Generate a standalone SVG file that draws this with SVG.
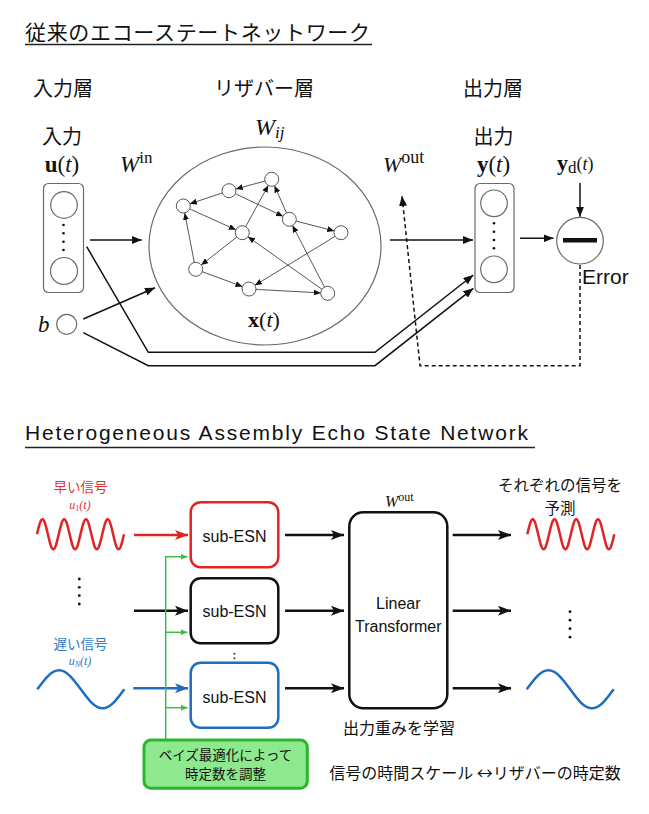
<svg xmlns="http://www.w3.org/2000/svg" width="649" height="814" viewBox="0 0 649 814">
<style>
.jp{font-family:"Noto Sans CJK JP","Noto Sans",sans-serif;fill:#111}
.en{font-family:"Liberation Sans",Arial,sans-serif;fill:#111}
.m{font-family:"Liberation Serif","Times New Roman",serif;fill:#111}
.gray{fill:#fff;stroke:#6a6a6a;stroke-width:1.2}
.rn{fill:#fff;stroke:#555;stroke-width:1}
.re{stroke:#444;stroke-width:0.9;fill:none;marker-end:url(#as)}
.ta{stroke:#111;stroke-width:1.5;fill:none;marker-end:url(#ah)}
.ba{stroke:#111;stroke-width:2.5;fill:none;marker-end:url(#ab)}
.ga{stroke:#3cbf3c;stroke-width:1.5;fill:none;marker-end:url(#ag)}
.dot{fill:#111}
</style>
<defs>
<marker id="ah" markerUnits="userSpaceOnUse" markerWidth="11" markerHeight="8" refX="10" refY="4" orient="auto"><path d="M0,0 L10,4 L0,8 z" fill="#111"/></marker>
<marker id="as" markerUnits="userSpaceOnUse" markerWidth="7" markerHeight="6" refX="7" refY="3" orient="auto"><path d="M0,0 L7,3 L0,6 z" fill="#111"/></marker>
<marker id="ab" markerUnits="userSpaceOnUse" markerWidth="14" markerHeight="11" refX="13" refY="5" orient="auto"><path d="M0,0 L13,5 L0,10 L3,5 z" fill="#111"/></marker>
<marker id="ar" markerUnits="userSpaceOnUse" markerWidth="14" markerHeight="11" refX="13" refY="5" orient="auto"><path d="M0,0 L13,5 L0,10 L3,5 z" fill="#e02424"/></marker>
<marker id="abl" markerUnits="userSpaceOnUse" markerWidth="14" markerHeight="11" refX="13" refY="5" orient="auto"><path d="M0,0 L13,5 L0,10 L3,5 z" fill="#1f6cc0"/></marker>
<marker id="ag" markerUnits="userSpaceOnUse" markerWidth="8" markerHeight="6" refX="7" refY="3" orient="auto"><path d="M0,0 L7,3 L0,6 z" fill="#3cbf3c"/></marker>
</defs>

<!-- Titles -->
<g id="title1">
<text class="jp" x="25" y="40" font-size="21" textLength="345" lengthAdjust="spacing">従来のエコーステートネットワーク</text>
<line x1="25" y1="44.5" x2="372" y2="44.5" stroke="#222" stroke-width="1.5"/>
</g>
<g id="title2">
<text class="en" x="25" y="440" font-size="21" textLength="503" lengthAdjust="spacing">Heterogeneous Assembly Echo State Network</text>
<line x1="25" y1="447.5" x2="535" y2="447.5" stroke="#222" stroke-width="1.5"/>
</g>

<!-- Layer labels -->
<g id="labels-top">
<text class="jp" x="63" y="95.5" font-size="20" text-anchor="middle">入力層</text>
<text class="jp" x="264" y="95.5" font-size="20" text-anchor="middle">リザバー層</text>
<text class="jp" x="493" y="95.5" font-size="20" text-anchor="middle">出力層</text>
<text class="jp" x="62" y="143.5" font-size="20" text-anchor="middle">入力</text>
<text class="jp" x="493.5" y="143.5" font-size="20" text-anchor="middle">出力</text>
<text class="m" x="62" y="172" font-size="23" text-anchor="middle"><tspan font-weight="bold">u</tspan>(<tspan font-style="italic">t</tspan>)</text>
<text class="m" x="493.5" y="172" font-size="23" text-anchor="middle"><tspan font-weight="bold">y</tspan>(<tspan font-style="italic">t</tspan>)</text>
<text class="m" x="120" y="172" font-size="23"><tspan font-style="italic">W</tspan><tspan font-size="17" dy="-9">in</tspan></text>
<text class="m" x="255" y="135" font-size="24"><tspan font-style="italic">W</tspan><tspan font-size="17" font-style="italic" dy="3">ij</tspan></text>
<text class="m" x="383" y="172" font-size="22"><tspan font-style="italic">W</tspan><tspan font-size="18" dy="-9">out</tspan></text>
<text class="m" x="557" y="170" font-size="22"><tspan font-weight="bold">y</tspan><tspan font-size="17" dy="3">d</tspan><tspan font-size="18" dy="-3">(<tspan font-style="italic">t</tspan>)</tspan></text>
<text class="m" x="264" y="327" font-size="22" text-anchor="middle"><tspan font-weight="bold">x</tspan>(<tspan font-style="italic">t</tspan>)</text>
<text class="m" x="38" y="332" font-size="23" font-style="italic">b</text>
<text class="en" x="582" y="284" font-size="21">Error</text>
</g>

<!-- Input layer -->
<g id="input-layer">
<rect class="gray" x="43.5" y="183.5" width="40" height="109" rx="5"/>
<circle class="gray" cx="64" cy="205" r="13.3"/>
<circle class="gray" cx="64" cy="271" r="13.5"/>
<circle class="dot" cx="63.5" cy="225" r="1.3"/>
<circle class="dot" cx="63.5" cy="233.3" r="1.3"/>
<circle class="dot" cx="63.5" cy="241.7" r="1.3"/>
<circle class="dot" cx="63.5" cy="250" r="1.3"/>
</g>
<g id="bias">
<circle class="gray" cx="66.7" cy="324.3" r="10"/>
</g>

<!-- Reservoir -->
<g id="reservoir">
<ellipse cx="265" cy="246" rx="116" ry="99" fill="none" stroke="#6a6a6a" stroke-width="1.2"/>
<g id="res-edges">
<path class="re" d="M264.9,181.1 L235.8,188.9"/>
<path class="re" d="M222.4,192.9 L189.9,203.8"/>
<path class="re" d="M235.3,193.7 L283,216.3"/>
<path class="re" d="M286.5,212.9 L274.5,185.7"/>
<path class="re" d="M245.7,226.6 L268.3,185.4"/>
<path class="re" d="M189.7,208.9 L235.9,229.8"/>
<path class="re" d="M296.1,221.1 L334.2,230.9"/>
<path class="re" d="M236.8,237 L201.2,265"/>
<path class="re" d="M194.3,262.4 L184.7,212.9"/>
<path class="re" d="M202.3,271.7 L242.4,286.6"/>
<path class="re" d="M256,289.4 L320.7,292.9"/>
<path class="re" d="M335,236.4 L255,285.3"/>
<path class="re" d="M322,289.3 L248,236.8"/>
<path class="re" d="M324.5,287.1 L292.5,225.5"/>
</g>
<circle class="rn" cx="271.7" cy="179.3" r="7"/>
<circle class="rn" cx="229" cy="190.7" r="7"/>
<circle class="rn" cx="183.3" cy="206" r="7"/>
<circle class="rn" cx="289.3" cy="219.3" r="7"/>
<circle class="rn" cx="341" cy="232.7" r="7"/>
<circle class="rn" cx="242.3" cy="232.7" r="7"/>
<circle class="rn" cx="195.7" cy="269.3" r="7"/>
<circle class="rn" cx="249" cy="289" r="7"/>
<circle class="rn" cx="327.7" cy="293.3" r="7"/>
</g>

<!-- Output layer -->
<g id="output-layer">
<rect class="gray" x="475" y="183.5" width="39" height="109" rx="5"/>
<circle class="gray" cx="494" cy="203.3" r="13.3"/>
<circle class="gray" cx="494" cy="269.3" r="13.3"/>
<circle class="dot" cx="494" cy="223.3" r="1.3"/>
<circle class="dot" cx="494" cy="231.7" r="1.3"/>
<circle class="dot" cx="494" cy="240" r="1.3"/>
<circle class="dot" cx="494" cy="248.3" r="1.3"/>
</g>
<g id="error-node">
<circle class="gray" cx="580" cy="240.7" r="23.3"/>
<rect x="563" y="238" width="34" height="4.5" fill="#111"/>
</g>

<!-- Top connectors -->
<g id="connectors-top">
<path class="ta" d="M90,240 H141.7"/>
<path class="ta" d="M83.3,319 L155,287.7"/>
<path class="ta" d="M390,240 H473"/>
<path class="ta" d="M86.7,246.7 L148.3,352.3 H375 L473.3,275"/>
<path class="ta" d="M83.3,332.7 L148.3,365.7 H375 L473.3,288.3" stroke-width="1.8"/>
<path class="ta" d="M520,238.3 H553.5"/>
<path class="ta" d="M580,183 V216.7"/>
<path class="ta" d="M580,265 V365.7 H420 L402,196" stroke-dasharray="4,3"/>
</g>

<!-- Bottom: signals -->
<g id="input-signals">
<text class="jp" x="80.5" y="492" font-size="13.5" text-anchor="middle" style="fill:#e03434">早い信号</text>
<text class="m" x="80" y="509" font-size="12" text-anchor="middle" style="fill:#e03434"><tspan font-style="italic">u</tspan><tspan font-size="8" dy="2">1</tspan><tspan font-style="italic" dy="-2">(t)</tspan></text>
<path d="M37,534.3 c1.818,-7.876 3.48,-15 5.4375,-15 c1.9575,0 3.6195,7.124 5.4375,15 c1.818,7.876 3.48,15 5.4375,15 c1.9575,0 3.6195,-7.124 5.4375,-15 c1.818,-7.876 3.48,-15 5.4375,-15 c1.9575,0 3.6195,7.124 5.4375,15 c1.818,7.876 3.48,15 5.4375,15 c1.9575,0 3.6195,-7.124 5.4375,-15 c1.818,-7.876 3.48,-15 5.4375,-15 c1.9575,0 3.6195,7.124 5.4375,15 c1.818,7.876 3.48,15 5.4375,15 c1.9575,0 3.6195,-7.124 5.4375,-15 c1.818,-7.876 3.48,-15 5.4375,-15 c1.9575,0 3.6195,7.124 5.4375,15 c1.818,7.876 3.48,15 5.4375,15 c1.9575,0 3.6195,-7.124 5.4375,-15" fill="none" stroke="#e02424" stroke-width="2.5"/>
<circle class="dot" cx="79.3" cy="579" r="1.4"/>
<circle class="dot" cx="79.3" cy="587.3" r="1.4"/>
<circle class="dot" cx="79.3" cy="595.6" r="1.4"/>
<circle class="dot" cx="79.3" cy="604" r="1.4"/>
<text class="jp" x="80.5" y="649" font-size="13.5" text-anchor="middle" style="fill:#2f7cc9">遅い信号</text>
<text class="m" x="80" y="665" font-size="12" text-anchor="middle" style="fill:#2f7cc9"><tspan font-style="italic">u</tspan><tspan font-size="8" font-style="italic" dy="2">N</tspan><tspan font-style="italic" dy="-2">(t)</tspan></text>
<path d="M37.3,689.3 c7.271,-9.977 13.921,-19 21.75,-19 c7.829,0 14.479,9.023 21.75,19 c7.271,9.977 13.921,19 21.75,19 c7.829,0 14.479,-9.023 21.75,-19" fill="none" stroke="#1f6cc0" stroke-width="2.5"/>
</g>

<!-- sub-ESN nodes -->
<g id="sub-esn-1">
<rect x="190.7" y="502.3" width="87.6" height="65" rx="10" fill="#fff" stroke="#e02424" stroke-width="2.5"/>
<text class="en" x="234.5" y="541.5" font-size="16" text-anchor="middle">sub-ESN</text>
</g>
<g id="sub-esn-2">
<rect x="190.7" y="578.3" width="87.6" height="65" rx="10" fill="#fff" stroke="#111" stroke-width="2.5"/>
<text class="en" x="234.5" y="616.5" font-size="16" text-anchor="middle">sub-ESN</text>
</g>
<text class="en" x="234.3" y="658.5" font-size="11" font-weight="bold" text-anchor="middle">:</text>
<g id="sub-esn-3">
<rect x="190.7" y="662.7" width="87.6" height="65" rx="10" fill="#fff" stroke="#1f6cc0" stroke-width="2.5"/>
<text class="en" x="234.5" y="702.5" font-size="16" text-anchor="middle">sub-ESN</text>
</g>

<!-- Linear transformer -->
<g id="linear-transformer">
<text class="m" x="385" y="507" font-size="16"><tspan font-style="italic">W</tspan><tspan font-size="12" dy="-6">out</tspan></text>
<rect x="349.3" y="512.3" width="98" height="196" rx="14" fill="#fff" stroke="#111" stroke-width="2.5"/>
<text class="en" x="398.3" y="608.5" font-size="16" text-anchor="middle">Linear</text>
<text class="en" x="398.3" y="632" font-size="16" text-anchor="middle">Transformer</text>
<text class="jp" x="399" y="734" font-size="16" text-anchor="middle">出力重みを学習</text>
</g>

<!-- Bayesian optimization -->
<g id="bayes-opt">
<rect x="144" y="740" width="163.3" height="48.3" rx="7" fill="#8ee88e" stroke="#2cb52c" stroke-width="3"/>
<text class="jp" x="225.5" y="759.5" font-size="13.5" text-anchor="middle">ベイズ最適化によって</text>
<text class="jp" x="225.5" y="779" font-size="13.5" text-anchor="middle">時定数を調整</text>
</g>

<!-- Outputs -->
<g id="output-signals">
<text class="jp" x="560" y="491" font-size="15.5" text-anchor="middle">それぞれの信号を</text>
<text class="jp" x="560" y="513.5" font-size="15.5" text-anchor="middle">予測</text>
<path d="M527.3,534.3 c1.818,-7.876 3.48,-15 5.4375,-15 c1.9575,0 3.6195,7.124 5.4375,15 c1.818,7.876 3.48,15 5.4375,15 c1.9575,0 3.6195,-7.124 5.4375,-15 c1.818,-7.876 3.48,-15 5.4375,-15 c1.9575,0 3.6195,7.124 5.4375,15 c1.818,7.876 3.48,15 5.4375,15 c1.9575,0 3.6195,-7.124 5.4375,-15 c1.818,-7.876 3.48,-15 5.4375,-15 c1.9575,0 3.6195,7.124 5.4375,15 c1.818,7.876 3.48,15 5.4375,15 c1.9575,0 3.6195,-7.124 5.4375,-15 c1.818,-7.876 3.48,-15 5.4375,-15 c1.9575,0 3.6195,7.124 5.4375,15 c1.818,7.876 3.48,15 5.4375,15 c1.9575,0 3.6195,-7.124 5.4375,-15" fill="none" stroke="#e02424" stroke-width="2.5"/>
<circle class="dot" cx="570" cy="611.7" r="1.4"/>
<circle class="dot" cx="570" cy="620.2" r="1.4"/>
<circle class="dot" cx="570" cy="628.7" r="1.4"/>
<circle class="dot" cx="570" cy="637.2" r="1.4"/>
<path d="M526.7,689.3 c7.271,-9.977 13.921,-19 21.75,-19 c7.829,0 14.479,9.023 21.75,19 c7.271,9.977 13.921,19 21.75,19 c7.829,0 14.479,-9.023 21.75,-19" fill="none" stroke="#1f6cc0" stroke-width="2.5"/>
<text class="jp" x="475" y="779" font-size="16" text-anchor="middle">信号の時間スケール ↔リザバーの時定数</text>
</g>

<!-- Bottom connectors -->
<g id="connectors-bottom">
<path d="M134,535 H188" stroke="#e02424" stroke-width="2.5" fill="none" marker-end="url(#ar)"/>
<path class="ba" d="M134,610.7 H188"/>
<path d="M133.3,688.3 H188" stroke="#1f6cc0" stroke-width="2.5" fill="none" marker-end="url(#abl)"/>
<path class="ba" d="M285,535 H344"/>
<path class="ba" d="M285,610.7 H344"/>
<path class="ba" d="M285,688.3 H344"/>
<path class="ba" d="M452.7,535 H511"/>
<path class="ba" d="M452.7,610.7 H511"/>
<path class="ba" d="M452.7,688.3 H511"/>
<path d="M165.7,740 V556" stroke="#3cbf3c" stroke-width="1.5" fill="none"/>
<path class="ga" d="M165.7,556.7 H187.5"/>
<path class="ga" d="M165.7,632.3 H187.5"/>
<path class="ga" d="M165.7,707.7 H187.5"/>
</g>
</svg>
